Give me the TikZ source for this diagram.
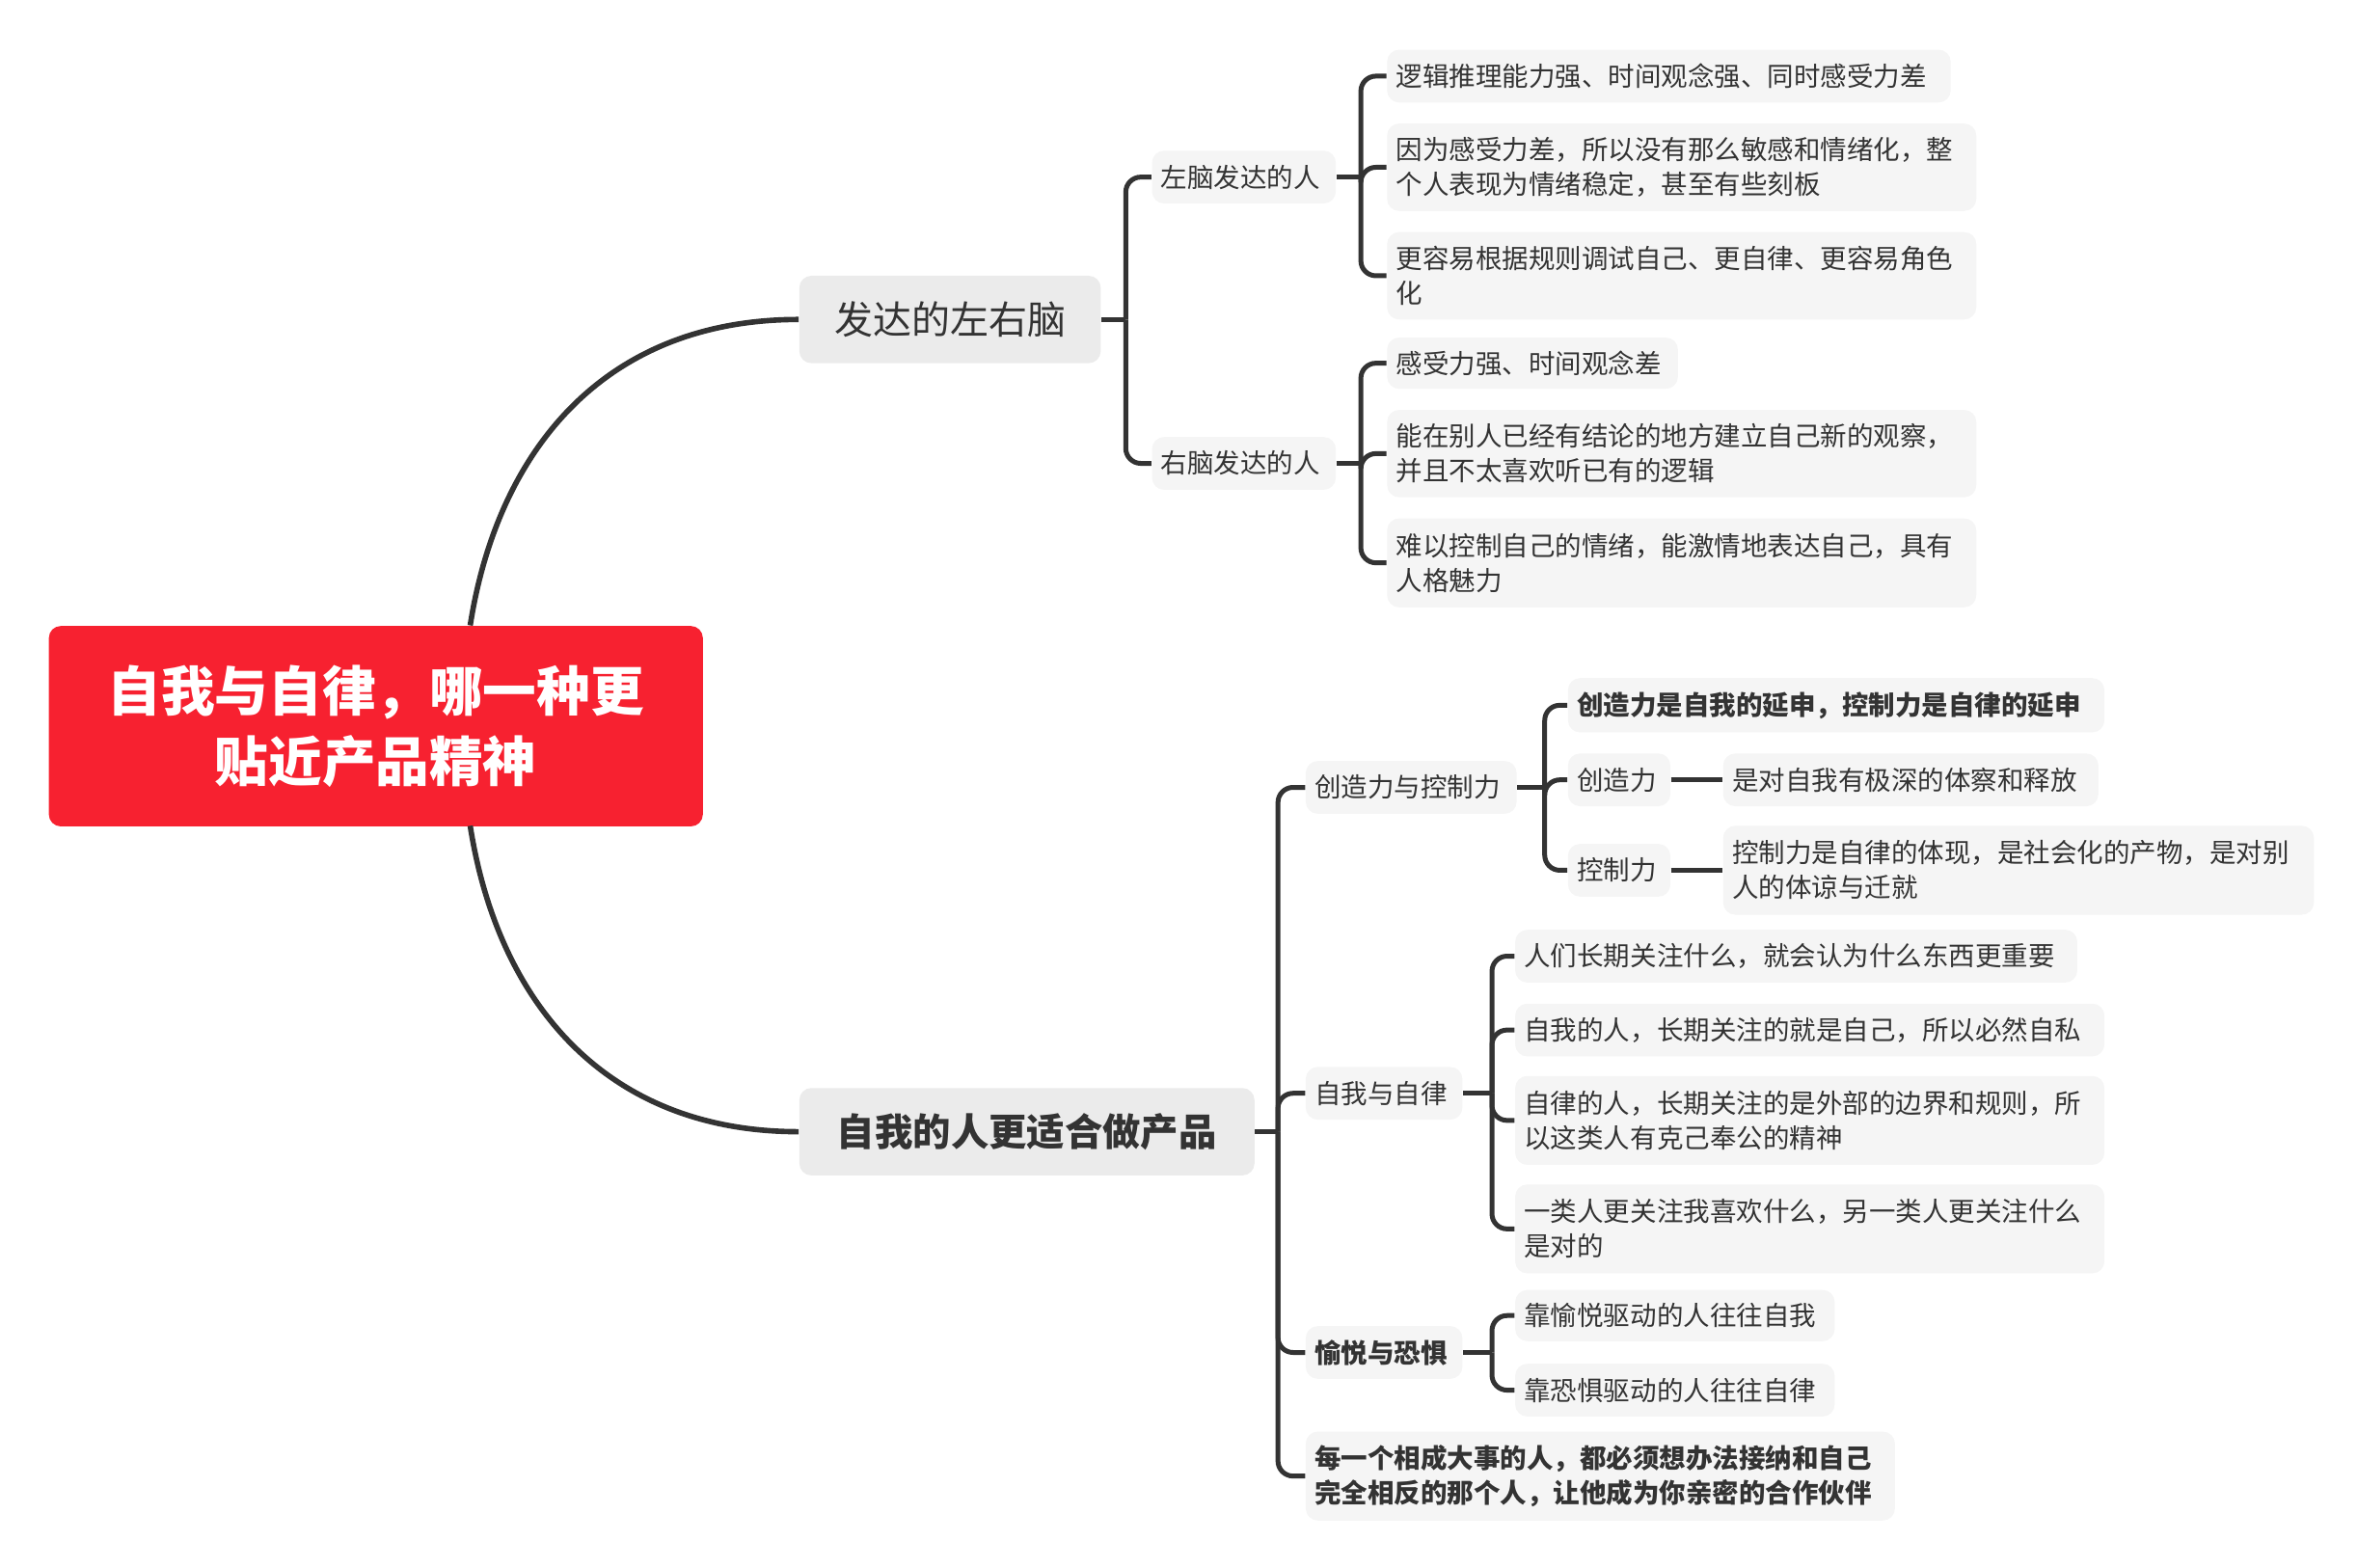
\documentclass[tikz,border=0pt]{standalone}
\usepackage{fontspec}
\setmainfont{Noto Sans CJK SC}
\usetikzlibrary{calc}
\definecolor{rootc}{RGB}{247,33,48}
\definecolor{mainc}{RGB}{235,235,235}
\definecolor{leafc}{RGB}{245,245,245}
\definecolor{txt}{RGB}{51,51,51}
\definecolor{ln}{RGB}{51,51,51}
\newcommand\lfont{\fontsize{8.8}{11.5}\selectfont}
\begin{document}
\begin{tikzpicture}[x=0.5pt,y=-0.5pt,
  leaf/.style={anchor=west,fill=leafc,rounded corners=4pt,inner xsep=3pt,inner ysep=0pt,align=left,font=\lfont,text=txt},
  mainbox/.style={anchor=west,fill=mainc,rounded corners=4pt,inner xsep=8pt,inner ysep=0pt,align=center,text=txt},
  br/.style={draw=ln,line width=1.6pt,rounded corners=5pt},
  conn/.style={draw=ln,line width=1.8pt}]
\useasboundingbox (0,0) rectangle (1564,1040);
% root
\node[anchor=north west,fill=rootc,rounded corners=4pt,minimum width=217pt,minimum height=66.5pt,align=center,text=white,font=\fontsize{17.8}{23.5}\selectfont\bfseries,inner sep=0pt] (root) at (32,415) {自我与自律，哪一种更\\贴近产品精神};
% main
\node[mainbox,text width=84pt,minimum height=29pt,font=\fontsize{12.8}{15}\selectfont] (m1) at (530,212) {发达的左右脑};
\node[mainbox,text width=135pt,minimum height=29pt,font=\fontsize{12.6}{15}\selectfont\bfseries] (m2) at (530,751) {自我的人更适合做产品};
% left brain
\node[leaf,text width=55pt,minimum height=17.5pt] (la) at (764,117.5) {左脑发达的人};
\node[leaf,text width=55pt,minimum height=17.5pt] (lb) at (764,307.5) {右脑发达的人};
\node[leaf,text width=181pt,minimum height=17.5pt] (l1) at (920,50.5) {逻辑推理能力强、时间观念强、同时感受力差};
\node[leaf,text width=189.5pt,minimum height=29pt] (l2) at (920,111) {因为感受力差，所以没有那么敏感和情绪化，整\\个人表现为情绪稳定，甚至有些刻板};
\node[leaf,text width=189.5pt,minimum height=29pt] (l3) at (920,183) {更容易根据规则调试自己、更自律、更容易角色\\化};
\node[leaf,text width=90.5pt,minimum height=17pt] (r1) at (920,241) {感受力强、时间观念差};
\node[leaf,text width=189.5pt,minimum height=29pt] (r2) at (920,301) {能在别人已经有结论的地方建立自己新的观察，\\并且不太喜欢听已有的逻辑};
\node[leaf,text width=189.5pt,minimum height=29.5pt] (r3) at (920,373.5) {难以控制自己的情绪，能激情地表达自己，具有\\人格魅力};
% creativity
\node[leaf,text width=64pt,minimum height=17.5pt] (c0) at (866,522.5) {创造力与控制力};
\node[leaf,text width=172pt,minimum height=18pt,font=\lfont\bfseries] (c1) at (1040,468) {创造力是自我的延申，控制力是自律的延申};
\node[leaf,text width=28pt,minimum height=17.5pt] (c2) at (1040,517.5) {创造力};
\node[leaf,text width=118.5pt,minimum height=17.5pt] (c3) at (1143,517.5) {是对自我有极深的体察和释放};
\node[leaf,text width=28pt,minimum height=17.5pt] (c4) at (1040,577.5) {控制力};
\node[leaf,text width=190pt,minimum height=29.5pt] (c5) at (1143,577.5) {控制力是自律的体现，是社会化的产物，是对别\\人的体谅与迁就};
% self
\node[leaf,text width=46pt,minimum height=17.5pt] (s0) at (866,725.5) {自我与自律};
\node[leaf,text width=180.5pt,minimum height=17.5pt] (s1) at (1005,634.5) {人们长期关注什么，就会认为什么东西更重要};
\node[leaf,text width=189.5pt,minimum height=17.5pt] (s2) at (1005,683.5) {自我的人，长期关注的就是自己，所以必然自私};
\node[leaf,text width=189.5pt,minimum height=29.5pt] (s3) at (1005,743.5) {自律的人，长期关注的是外部的边界和规则，所\\以这类人有克己奉公的精神};
\node[leaf,text width=189.5pt,minimum height=29.5pt] (s4) at (1005,815.5) {一类人更关注我喜欢什么，另一类人更关注什么\\是对的};
% joy/fear
\node[leaf,text width=46pt,minimum height=17.5pt,font=\lfont\bfseries] (y0) at (866,897.5) {愉悦与恐惧};
\node[leaf,text width=100pt,minimum height=17pt] (y1) at (1005,873) {靠愉悦驱动的人往往自我};
\node[leaf,text width=100pt,minimum height=17.5pt] (y2) at (1005,922.5) {靠恐惧驱动的人往往自律};
\node[leaf,text width=189.5pt,minimum height=29.5pt,font=\lfont\bfseries] (e0) at (866,979.5) {每一个相成大事的人，都必须想办法接纳和自己\\完全相反的那个人，让他成为你亲密的合作伙伴};
% root connectors
\coordinate (rt) at (312,415);
\coordinate (rb) at (312,548);
\draw[conn] (rt) .. controls (330,300) and (400,212) .. (m1.west);
\draw[conn] (rb) .. controls (330,663) and (400,751) .. (m2.west);
% brackets
\coordinate (j1) at (747,212);
\draw[br] (m1.east) -- (j1);
\foreach \c in {la,lb} \draw[br] (j1) |- (\c.west);
\coordinate (j2) at (903,117.5);
\draw[br] (la.east) -- (j2);
\foreach \c in {l1,l2,l3} \draw[br] (j2) |- (\c.west);
\coordinate (j3) at (903,307.5);
\draw[br] (lb.east) -- (j3);
\foreach \c in {r1,r2,r3} \draw[br] (j3) |- (\c.west);
\coordinate (j4) at (848,751);
\draw[br] (m2.east) -- (j4);
\foreach \c in {c0,s0,y0,e0} \draw[br] (j4) |- (\c.west);
\coordinate (j5) at (1025,522.5);
\draw[br] (c0.east) -- (j5);
\foreach \c in {c1,c2,c4} \draw[br] (j5) |- (\c.west);
\draw[br] (c2.east) -- (c3.west);
\draw[br] (c4.east) -- (c4.east -| c5.west);
\coordinate (j6) at (990,725.5);
\draw[br] (s0.east) -- (j6);
\foreach \c in {s1,s2,s3,s4} \draw[br] (j6) |- (\c.west);
\coordinate (j7) at (990,897.5);
\draw[br] (y0.east) -- (j7);
\foreach \c in {y1,y2} \draw[br] (j7) |- (\c.west);
\end{tikzpicture}
\end{document}
